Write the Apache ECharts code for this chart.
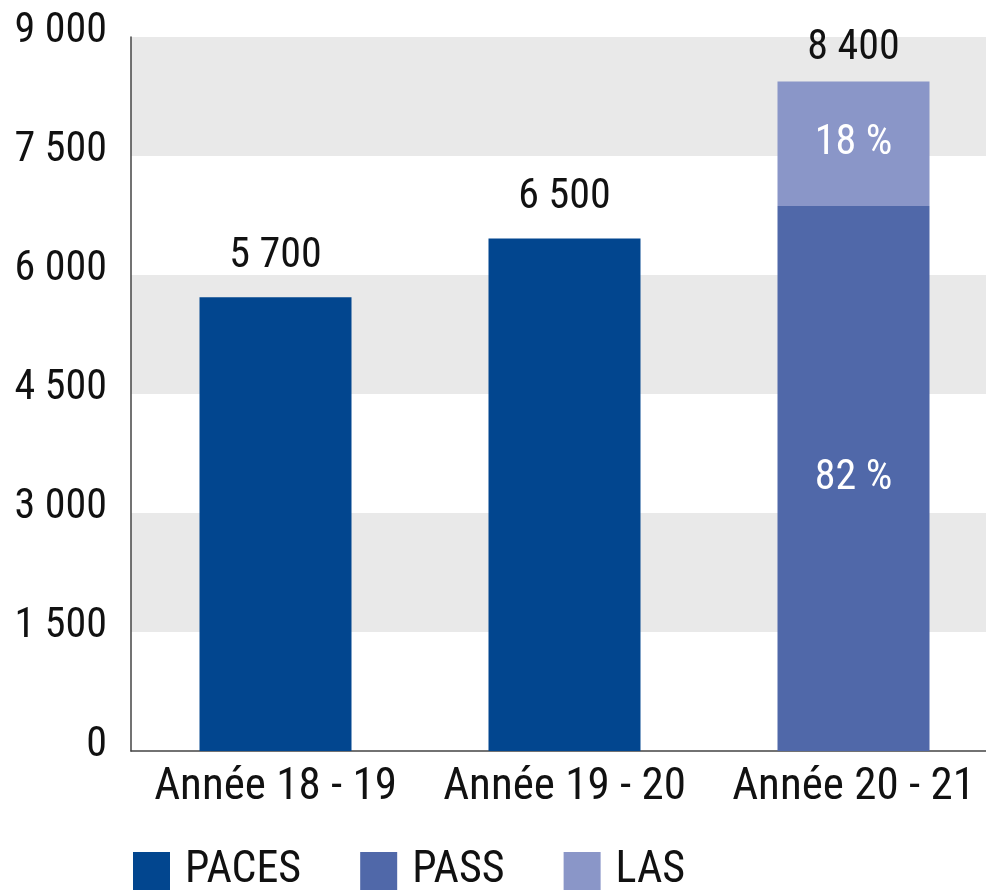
<!doctype html>
<html>

<head>
    <meta charset="utf-8">
    <title>PACES / PASS / LAS</title>
    <script src="https://cdn.jsdelivr.net/npm/echarts@6/dist/echarts.min.js"></script>
    <style>
        html, body { margin: 0; padding: 0; background: #fff; }
    </style>
</head>

<body>
    <div id="container" style="width:986px;height:892px;"></div>
    <script type="text/javascript">
        var categories = ['Année 18 - 19', 'Année 19 - 20', 'Année 20 - 21'];
        var paces = [5720, 6460, null];
        var pass = [null, null, 6870];
        var las = [null, null, 1570];
        var totalLabels = ['5 700', '6 500', '8 400'];
        var shareLabels = ['82 %', '18 %'];
        var yTicks = ['0', '1 500', '3 000', '4 500', '6 000', '7 500', '9 000'];

        var font = "'Roboto Condensed', 'Liberation Sans Narrow', 'Arial Narrow', 'DejaVu Sans Condensed', sans-serif";

        var option = {
            animation: false,
            textStyle: { fontFamily: font },
            grid: { left: 131, right: -12, top: 37, bottom: 141, outerBoundsMode: 'none' },
            legend: {
                left: 128,
                top: 844,
                itemWidth: 37,
                itemHeight: 38,
                itemGap: 59,
                icon: 'rect',
                data: ['PACES', 'PASS', 'LAS'],
                textStyle: { fontSize: 44, color: '#111', fontFamily: font, padding: [0, 0, 0, 10] }
            },
            xAxis: {
                type: 'category',
                data: categories,
                axisLine: { lineStyle: { color: '#444', width: 1.5 } },
                axisTick: { show: false },
                axisLabel: { interval: 0, fontSize: 45, color: '#111', margin: 14, fontFamily: font }
            },
            yAxis: {
                type: 'value',
                min: 0,
                max: 9000,
                interval: 1500,
                axisLine: { show: true, lineStyle: { color: '#444', width: 1.5 } },
                axisTick: { show: false },
                splitLine: { show: false },
                splitArea: { show: true, areaStyle: { color: ['#ffffff', '#e9e9e9'] } },
                axisLabel: {
                    fontSize: 42, color: '#111', margin: 24, fontFamily: font,
                    verticalAlign: 'bottom', lineHeight: 12,
                    formatter: function (v) { return yTicks[Math.round(v / 1500)]; }
                }
            },
            series: [
                {
                    name: 'PACES', type: 'bar', stack: 'tot', barWidth: 152,
                    itemStyle: { color: '#02468f' },
                    label: {
                        show: true, position: 'top', distance: 20,
                        fontSize: 42, color: '#111', fontFamily: font,
                        formatter: function (p) { return totalLabels[p.dataIndex]; }
                    },
                    data: paces
                },
                {
                    name: 'PASS', type: 'bar', stack: 'tot', barWidth: 152,
                    itemStyle: { color: '#5068a9' },
                    label: {
                        show: true, position: 'inside',
                        fontSize: 42, color: '#fff', fontFamily: font,
                        formatter: function () { return shareLabels[0]; }
                    },
                    data: pass
                },
                {
                    name: 'LAS', type: 'bar', stack: 'tot', barWidth: 152,
                    itemStyle: { color: '#8a96c8' },
                    label: {
                        show: true, position: 'inside',
                        fontSize: 42, color: '#fff', fontFamily: font,
                        padding: [0, 0, 12, 0],
                        formatter: function () { return shareLabels[1]; }
                    },
                    data: las
                },
                {
                    // total label above the stacked bar
                    name: 'total', type: 'bar', stack: 'tot', barWidth: 152,
                    itemStyle: { color: 'transparent' },
                    label: {
                        show: true, position: 'insideBottom', distance: 12,
                        fontSize: 42, color: '#111', fontFamily: font,
                        formatter: function (p) { return totalLabels[p.dataIndex]; }
                    },
                    data: [null, null, 0.001]
                }
            ]
        };

        var myChart = echarts.init(document.getElementById('container'));
        myChart.setOption(option);
    </script>
</body>

</html>
